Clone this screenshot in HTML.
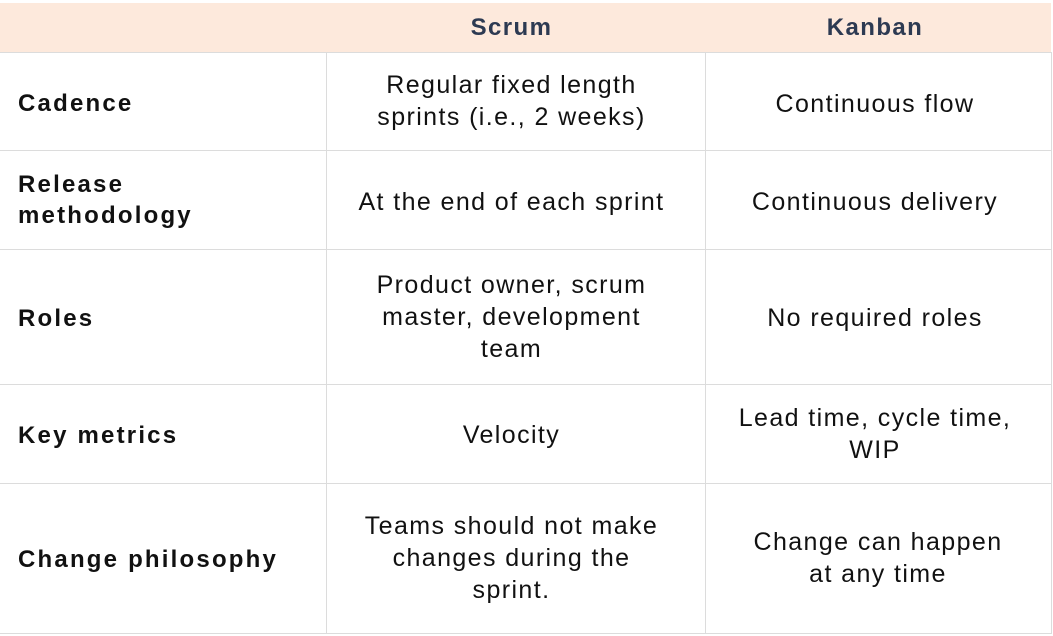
<!DOCTYPE html>
<html><head><style>
body{margin:0;width:1053px;height:635px;background:#fff;position:relative;overflow:hidden;font-family:"Liberation Sans",sans-serif;}
.hdr{position:absolute;left:0;top:3px;width:1051px;height:49px;background:#fde9dc;}
.h{position:absolute;top:3px;height:49px;display:flex;align-items:center;justify-content:center;font-weight:bold;font-size:24px;letter-spacing:1.4px;color:#2d3a52;}
.hl{position:absolute;background:#dcdcdc;height:1px;left:0;width:1052px;}
.vl{position:absolute;background:#dcdcdc;width:1px;top:52px;height:581px;}
.c{position:absolute;display:flex;align-items:center;justify-content:center;text-align:center;font-size:25px;letter-spacing:1.4px;color:#111;line-height:32px;}
.l{position:absolute;display:flex;align-items:center;left:18px;width:305px;font-weight:bold;font-size:24px;letter-spacing:2.2px;color:#111;line-height:31px;}
</style></head><body>
<div class="hdr"></div>
<div class="h" style="left:322px;width:379px">Scrum</div>
<div class="h" style="left:705px;width:340px">Kanban</div>
<div class="hl" style="top:52px"></div>
<div class="hl" style="top:150px"></div>
<div class="hl" style="top:249px"></div>
<div class="hl" style="top:384px"></div>
<div class="hl" style="top:483px"></div>
<div class="hl" style="top:633px"></div>
<div class="vl" style="left:326px"></div>
<div class="vl" style="left:705px"></div>
<div class="vl" style="left:1051px"></div>

<div class="l" style="top:52px;height:103px">Cadence</div>
<div class="c" style="left:322px;width:379px;top:52px;height:98px">Regular fixed length<br>sprints (i.e., 2 weeks)</div>
<div class="c" style="left:705px;width:340px;top:52px;height:103px">Continuous flow</div>

<div class="l" style="top:150px;height:99px">Release<br>methodology</div>
<div class="c" style="left:322px;width:379px;top:150px;height:103px">At the end of each sprint</div>
<div class="c" style="left:705px;width:340px;top:150px;height:103px">Continuous delivery</div>

<div class="l" style="top:249px;height:138px">Roles</div>
<div class="c" style="left:322px;width:379px;top:249px;height:135px">Product owner, scrum<br>master, development<br>team</div>
<div class="c" style="left:705px;width:340px;top:249px;height:138px">No required roles</div>

<div class="l" style="top:384px;height:102px">Key metrics</div>
<div class="c" style="left:322px;width:379px;top:384px;height:102px">Velocity</div>
<div class="c" style="left:705px;width:340px;top:384px;height:99px">Lead time, cycle time,<br>WIP</div>

<div class="l" style="top:483px;height:153px">Change philosophy</div>
<div class="c" style="left:322px;width:379px;top:483px;height:150px">Teams should not make<br>changes during the<br>sprint.</div>
<div class="c" style="left:705px;width:346px;top:483px;height:150px">Change can happen<br>at any time</div>
</body></html>
